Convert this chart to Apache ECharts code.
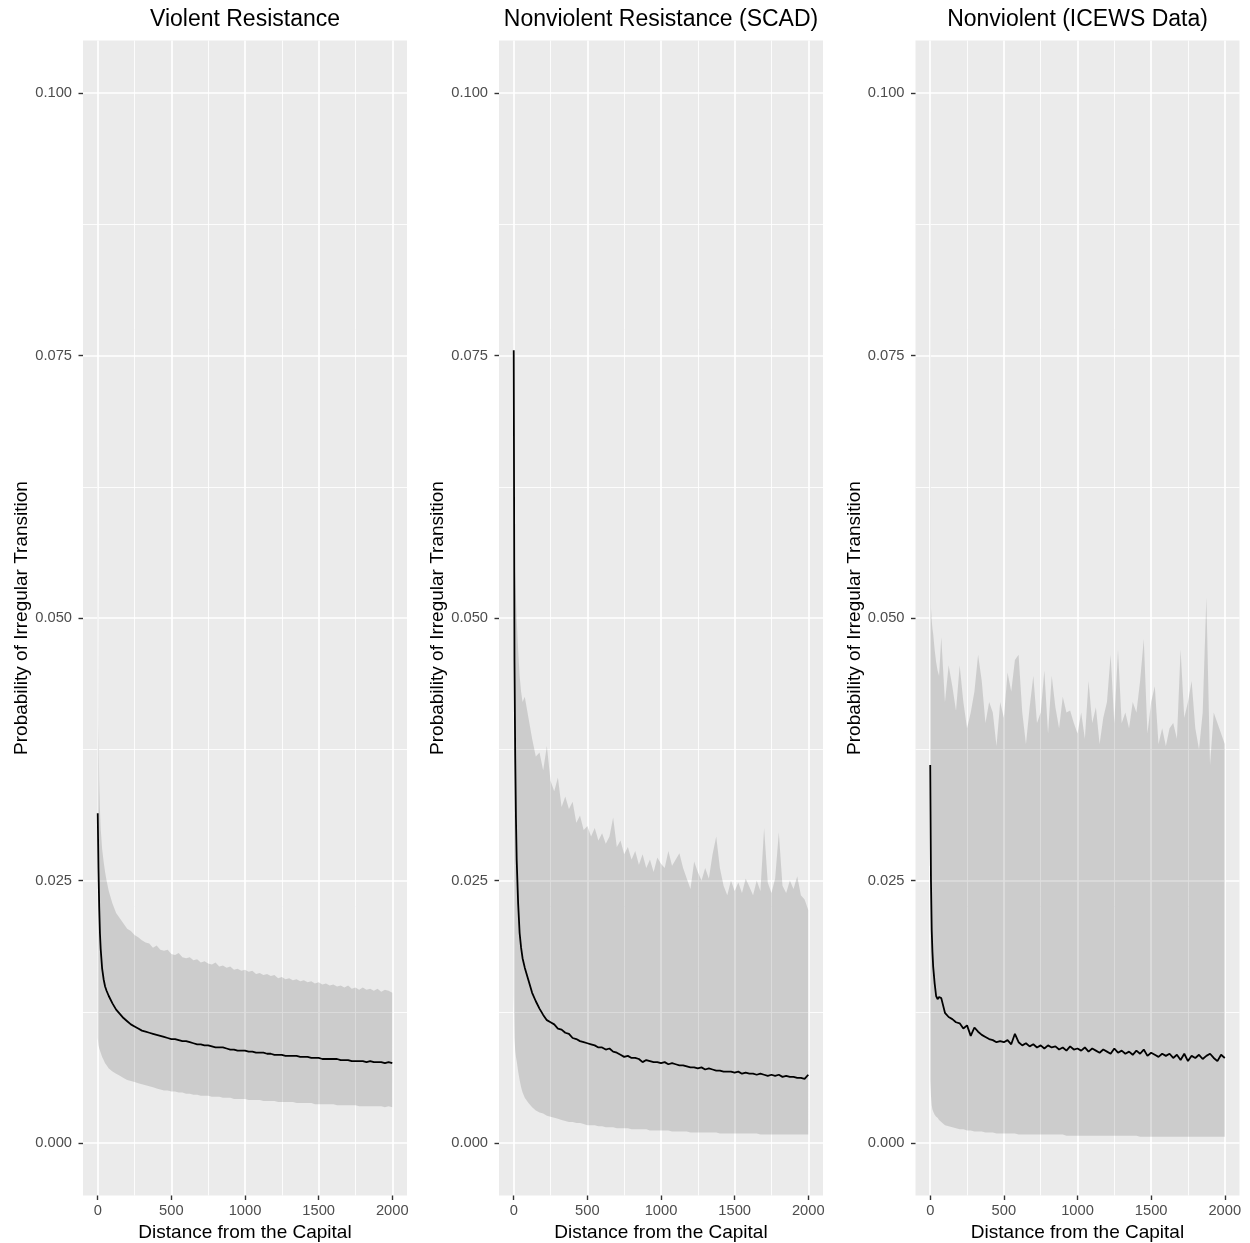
<!DOCTYPE html>
<html><head><meta charset="utf-8">
<script src="https://cdn.jsdelivr.net/npm/echarts@6/dist/echarts.min.js"></script>
<style>html,body{margin:0;padding:0;background:#fff}#c{width:1250px;height:1243px}</style>
</head><body><div id="c"></div>
<script>
// ---- data ----
const distance = [0,5,10,15,20,30,40,50,60,75,
 100,125,150,175,200,225,250,275,300,325,
 350,375,400,425,450,475,500,525,550,575,
 600,625,650,675,700,725,750,775,800,825,
 850,875,900,925,950,975,1000,1025,1050,1075,
 1100,1125,1150,1175,1200,1225,1250,1275,1300,1325,
 1350,1375,1400,1425,1450,1475,1500,1525,1550,1575,
 1600,1625,1650,1675,1700,1725,1750,1775,1800,1825,
 1850,1875,1900,1925,1950,1975,2000];

const panelTitles = ['Violent Resistance','Nonviolent Resistance (SCAD)','Nonviolent (ICEWS Data)'];

const violentFit = [0.0314,0.0262,0.0225,0.0200,0.0185,0.0166,0.0156,0.0149,0.0145,0.0140,
 0.0133,0.0127,0.0123,0.0119,0.0116,0.0113,0.0111,0.0109,0.0107,0.0106,
 0.0105,0.0104,0.0103,0.0102,0.0101,0.0100,0.0099,0.0099,0.0098,0.0097,
 0.0097,0.0096,0.0095,0.0094,0.0094,0.0093,0.0093,0.0092,0.0091,0.0091,
 0.0091,0.0090,0.0089,0.0089,0.0088,0.0088,0.0088,0.0087,0.0087,0.0086,
 0.0086,0.0086,0.0085,0.0085,0.0084,0.0084,0.0084,0.0083,0.0083,0.0083,
 0.0083,0.0082,0.0082,0.0082,0.0081,0.0081,0.0081,0.0080,0.0080,0.0080,
 0.0080,0.0080,0.0079,0.0079,0.0079,0.0078,0.0078,0.0078,0.0078,0.0077,
 0.0078,0.0077,0.0077,0.0077,0.0076,0.0077,0.0076];
const violentUpper = [0.0700,0.0400,0.0345,0.0318,0.0300,0.0280,0.0268,0.0258,0.0250,0.0240,
 0.0228,0.0219,0.0214,0.0209,0.0204,0.0202,0.0198,0.0196,0.0193,0.0191,
 0.0190,0.0186,0.0188,0.0184,0.0183,0.0184,0.0180,0.0179,0.0181,0.0177,
 0.0176,0.0177,0.0174,0.0175,0.0172,0.0173,0.0171,0.0170,0.0172,0.0168,
 0.0169,0.0167,0.0168,0.0165,0.0166,0.0164,0.0165,0.0163,0.0164,0.0161,
 0.0162,0.0160,0.0161,0.0159,0.0160,0.0157,0.0158,0.0156,0.0157,0.0155,
 0.0156,0.0154,0.0155,0.0153,0.0154,0.0152,0.0153,0.0151,0.0152,0.0150,
 0.0151,0.0149,0.0150,0.0148,0.0150,0.0147,0.0148,0.0146,0.0148,0.0146,
 0.0147,0.0145,0.0147,0.0144,0.0146,0.0145,0.0143];
const violentLower = [0.0100,0.0093,0.0090,0.0088,0.0086,0.0082,0.0079,0.0076,0.0074,0.0071,
 0.0068,0.0066,0.0064,0.0062,0.0060,0.0059,0.0058,0.0057,0.0056,0.0055,
 0.0054,0.0053,0.0052,0.0051,0.0050,0.0050,0.0049,0.0049,0.0048,0.0048,
 0.0047,0.0047,0.0046,0.0046,0.0045,0.0045,0.0045,0.0044,0.0044,0.0044,
 0.0043,0.0043,0.0043,0.0042,0.0042,0.0042,0.0042,0.0041,0.0041,0.0041,
 0.0041,0.0040,0.0040,0.0040,0.0040,0.0039,0.0039,0.0039,0.0039,0.0039,
 0.0038,0.0038,0.0038,0.0038,0.0038,0.0037,0.0037,0.0037,0.0037,0.0037,
 0.0037,0.0036,0.0036,0.0036,0.0036,0.0036,0.0036,0.0035,0.0035,0.0035,
 0.0035,0.0035,0.0035,0.0035,0.0034,0.0035,0.0034];

const scadFit = [0.0755,0.0460,0.0370,0.0310,0.0270,0.0228,0.0200,0.0186,0.0176,0.0167,
 0.0155,0.0143,0.0135,0.0128,0.0122,0.0117,0.0115,0.0113,0.0109,0.0108,
 0.0105,0.0104,0.0100,0.0099,0.0097,0.0096,0.0095,0.0094,0.0093,0.0091,
 0.0091,0.0089,0.0090,0.0087,0.0086,0.0084,0.0082,0.0083,0.0081,0.0081,
 0.0080,0.0077,0.0079,0.0078,0.0077,0.0077,0.0076,0.0077,0.0075,0.0076,
 0.0075,0.0074,0.0074,0.0073,0.0072,0.0072,0.0071,0.0072,0.0070,0.0071,
 0.0070,0.0069,0.0069,0.0068,0.0068,0.0068,0.0067,0.0068,0.0066,0.0067,
 0.0066,0.0066,0.0065,0.0066,0.0065,0.0064,0.0065,0.0064,0.0065,0.0063,
 0.0064,0.0063,0.0063,0.0062,0.0062,0.0061,0.0065];
const scadUpper = [0.0800,0.0560,0.0540,0.0520,0.0500,0.0470,0.0445,0.0430,0.0420,0.0425,
 0.0405,0.0385,0.0368,0.0372,0.0355,0.0378,0.0345,0.0335,0.0348,0.0320,
 0.0330,0.0318,0.0325,0.0305,0.0312,0.0298,0.0302,0.0292,0.0300,0.0288,
 0.0295,0.0285,0.0292,0.0310,0.0282,0.0288,0.0275,0.0282,0.0270,0.0278,
 0.0265,0.0275,0.0262,0.0270,0.0258,0.0272,0.0266,0.0262,0.0278,0.0264,
 0.0270,0.0276,0.0262,0.0252,0.0242,0.0268,0.0258,0.0250,0.0262,0.0252,
 0.0275,0.0292,0.0262,0.0245,0.0236,0.0250,0.0240,0.0248,0.0238,0.0252,
 0.0244,0.0236,0.0250,0.0240,0.0300,0.0248,0.0238,0.0252,0.0296,0.0245,
 0.0238,0.0250,0.0242,0.0254,0.0236,0.0232,0.0222];
const scadLower = [0.0140,0.0100,0.0088,0.0082,0.0078,0.0068,0.0060,0.0053,0.0048,0.0043,
 0.0038,0.0034,0.0031,0.0029,0.0028,0.0026,0.0025,0.0024,0.0023,0.0022,
 0.0021,0.0020,0.0020,0.0019,0.0019,0.0018,0.0017,0.0017,0.0017,0.0016,
 0.0016,0.0015,0.0015,0.0015,0.0014,0.0014,0.0014,0.0014,0.0013,0.0013,
 0.0013,0.0013,0.0013,0.0012,0.0012,0.0012,0.0012,0.0012,0.0012,0.0011,
 0.0011,0.0011,0.0011,0.0011,0.0010,0.0010,0.0010,0.0010,0.0010,0.0010,
 0.0010,0.0010,0.0009,0.0009,0.0009,0.0009,0.0009,0.0009,0.0009,0.0009,
 0.0009,0.0009,0.0009,0.0008,0.0008,0.0008,0.0008,0.0008,0.0008,0.0008,
 0.0008,0.0008,0.0008,0.0008,0.0008,0.0008,0.0008];

const icewsFit = [0.0360,0.0250,0.0203,0.0182,0.0168,0.0152,0.0140,0.0137,0.0139,0.0138,
 0.0124,0.0120,0.0118,0.0115,0.0114,0.0109,0.0112,0.0102,0.0110,0.0106,
 0.0103,0.0101,0.0099,0.0098,0.0096,0.0097,0.0096,0.0098,0.0094,0.0104,
 0.0096,0.0093,0.0095,0.0092,0.0094,0.0091,0.0093,0.0090,0.0093,0.0091,
 0.0092,0.0089,0.0091,0.0088,0.0092,0.0089,0.0090,0.0088,0.0091,0.0087,
 0.0090,0.0088,0.0086,0.0089,0.0087,0.0085,0.0090,0.0086,0.0088,0.0085,
 0.0087,0.0084,0.0088,0.0085,0.0089,0.0083,0.0086,0.0084,0.0082,0.0085,
 0.0083,0.0085,0.0081,0.0084,0.0079,0.0085,0.0078,0.0083,0.0081,0.0084,
 0.0080,0.0083,0.0085,0.0081,0.0078,0.0084,0.0081];
const icewsUpper = [0.1000,0.0510,0.0498,0.0490,0.0485,0.0470,0.0458,0.0450,0.0445,0.0482,
 0.0420,0.0455,0.0435,0.0412,0.0455,0.0420,0.0395,0.0410,0.0430,0.0465,
 0.0440,0.0400,0.0420,0.0410,0.0378,0.0420,0.0405,0.0448,0.0430,0.0460,
 0.0465,0.0410,0.0380,0.0415,0.0445,0.0400,0.0410,0.0450,0.0390,0.0445,
 0.0415,0.0395,0.0425,0.0410,0.0412,0.0400,0.0390,0.0410,0.0385,0.0440,
 0.0400,0.0415,0.0380,0.0405,0.0420,0.0465,0.0400,0.0470,0.0400,0.0410,
 0.0395,0.0420,0.0410,0.0440,0.0480,0.0390,0.0420,0.0435,0.0380,0.0395,
 0.0378,0.0395,0.0400,0.0385,0.0470,0.0405,0.0420,0.0440,0.0395,0.0375,
 0.0410,0.0520,0.0360,0.0410,0.0400,0.0390,0.0380];
const icewsLower = [0.0060,0.0045,0.0036,0.0032,0.0030,0.0027,0.0025,0.0024,0.0022,0.0020,
 0.0017,0.0016,0.0015,0.0014,0.0013,0.0013,0.0012,0.0012,0.0011,0.0011,
 0.0011,0.0010,0.0010,0.0010,0.0009,0.0009,0.0009,0.0009,0.0009,0.0009,
 0.0008,0.0008,0.0008,0.0008,0.0008,0.0008,0.0008,0.0008,0.0008,0.0008,
 0.0008,0.0008,0.0008,0.0007,0.0007,0.0007,0.0007,0.0007,0.0007,0.0007,
 0.0007,0.0007,0.0007,0.0007,0.0007,0.0007,0.0007,0.0007,0.0007,0.0007,
 0.0007,0.0007,0.0007,0.0006,0.0006,0.0006,0.0006,0.0006,0.0006,0.0006,
 0.0006,0.0006,0.0006,0.0006,0.0006,0.0006,0.0006,0.0006,0.0006,0.0006,
 0.0006,0.0006,0.0006,0.0006,0.0006,0.0006,0.0006];

const xTicks = [0,500,1000,1500,2000];
const xMinorTicks = [250,750,1250,1750];
const yTicks = [0,0.025,0.05,0.075,0.1];
const yMinorTicks = [0.0125,0.0375,0.0625,0.0875];

const xAxisTitle = 'Distance from the Capital';
const yAxisTitle = 'Probability of Irregular Transition';

// ---- chart ----
const FONT = "'Liberation Sans', Arial, Helvetica, sans-serif";
const panels = [
  {fit: violentFit, lo: violentLower, hi: violentUpper},
  {fit: scadFit, lo: scadLower, hi: scadUpper},
  {fit: icewsFit, lo: icewsLower, hi: icewsUpper}
];
const gridLefts = [83, 499, 915.5];
const GW = 324, GT = 40.5, GH = 1155;

const grid = [], xAxis = [], yAxis = [], series = [], title = [];
panels.forEach((p, i) => {
  grid.push({left: gridLefts[i], top: GT, width: GW, height: GH, show: true,
    backgroundColor: '#ebebeb', borderWidth: 0, containLabel: false, outerBoundsMode: 'none'});
  title.push({text: panelTitles[i], left: gridLefts[i] + GW / 2, top: 8.5, textAlign: 'center', padding: 0,
    textStyle: {fontFamily: FONT, fontSize: 23, fontWeight: 'normal', color: '#000'}});
  xAxis.push({gridIndex: i, type: 'value', min: -100, max: 2100, position: 'bottom',
    name: xAxisTitle, nameLocation: 'middle', nameGap: 28,
    nameTextStyle: {fontFamily: FONT, fontSize: 19, color: '#000'},
    axisLine: {show: false, onZero: false},
    axisTick: {show: true, customValues: xTicks, length: 4.5, lineStyle: {color: '#333', width: 1.4}},
    axisLabel: {customValues: xTicks, fontFamily: FONT, fontSize: 14.7, color: '#4d4d4d', margin: 8,
      formatter: v => String(v)},
    splitLine: {show: true, lineStyle: {color: '#fff', width: 1.7}}
  });
  xAxis.push({gridIndex: i, type: 'value', min: -100, max: 2100, position: 'top',
    axisLine: {show: false, onZero: false},
    axisTick: {show: false, customValues: xMinorTicks},
    axisLabel: {show: false, customValues: xMinorTicks},
    splitLine: {show: true, lineStyle: {color: '#fff', width: 0.85}}
  });
  yAxis.push({gridIndex: i, type: 'value', min: -0.005, max: 0.105, position: 'left',
    name: yAxisTitle, nameLocation: 'middle', nameGap: 48, nameRotate: 90,
    nameTextStyle: {fontFamily: FONT, fontSize: 19, color: '#000'},
    axisLine: {show: false, onZero: false},
    axisTick: {show: true, customValues: yTicks, length: 4.5, lineStyle: {color: '#333', width: 1.4}},
    axisLabel: {customValues: yTicks, fontFamily: FONT, fontSize: 14.7, color: '#4d4d4d', margin: 11,
      formatter: v => v.toFixed(3)},
    splitLine: {show: true, lineStyle: {color: '#fff', width: 1.7}}
  });
  yAxis.push({gridIndex: i, type: 'value', min: -0.005, max: 0.105, position: 'right',
    axisLine: {show: false, onZero: false},
    axisTick: {show: false, customValues: yMinorTicks},
    axisLabel: {show: false, customValues: yMinorTicks},
    splitLine: {show: true, lineStyle: {color: '#fff', width: 0.85}}
  });
  series.push({
    type: 'custom', xAxisIndex: 2 * i, yAxisIndex: 2 * i, silent: true, z: 2,
    data: [[0, 0]],
    renderItem: function (params, api) {
      const pts = [];
      for (let k = 0; k < distance.length; k++) pts.push(api.coord([distance[k], p.hi[k]]));
      for (let k = distance.length - 1; k >= 0; k--) pts.push(api.coord([distance[k], p.lo[k]]));
      return {type: 'polygon', shape: {points: pts}, style: {fill: 'rgba(0,0,0,0.13)', stroke: null}};
    }
  });
  series.push({
    type: 'line', xAxisIndex: 2 * i, yAxisIndex: 2 * i, z: 3, silent: true,
    data: distance.map((d, k) => [d, p.fit[k]]),
    showSymbol: false, symbol: 'none',
    lineStyle: {color: '#000', width: 1.8}
  });
});

const chart = echarts.init(document.getElementById('c'), null, {renderer: 'canvas'});
chart.setOption({animation: false, backgroundColor: '#fff', title, grid, xAxis, yAxis, series});
</script>
</body></html>
